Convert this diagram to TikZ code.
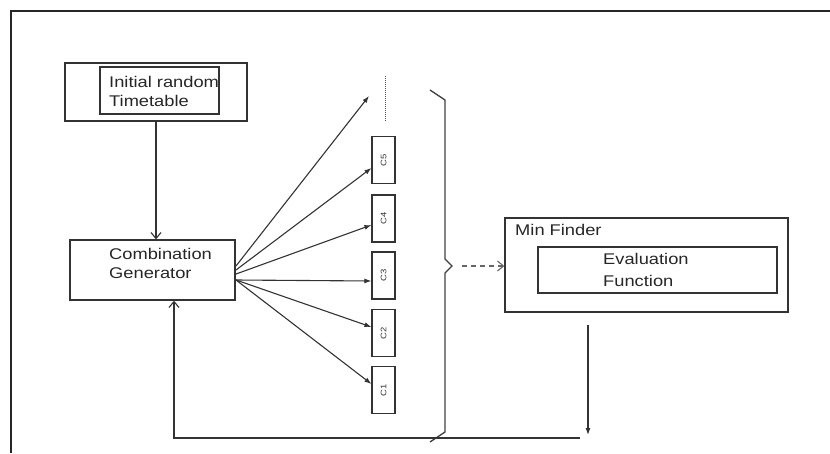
\documentclass[tikz,border=0pt]{standalone}
\usepackage{fontspec}
\setmainfont[FakeStretch=1.18]{Liberation Sans}
\usetikzlibrary{arrows.meta}
\begin{document}
\begin{tikzpicture}[x=1pt,y=-1pt,
  box/.style={draw=black!80,line width=1.3pt,minimum width=#1,inner sep=0pt},
  lbl/.style={anchor=west,inner sep=0pt,font=\fontsize{15.5}{18}\selectfont,text=black!85},
  cbox/.style={draw=black!80,line width=1.1pt,minimum width=23pt,minimum height=47pt,inner sep=0pt},
  clbl/.style={rotate=90,font=\fontsize{8}{9}\selectfont,inner sep=0pt,text=black!80},
  fan/.style={draw=black!80,line width=1.1pt,-{Latex[length=7pt,width=5pt]}},
  vhead/.style={draw=black!80,line width=1.1pt,-{Straight Barb[length=6pt,width=10pt]}}]
\useasboundingbox (0,0) rectangle (830,453);
% outer frame
\draw[line width=2pt,black!85] (11,453) -- (11,11) -- (830,11);
% initial random timetable
\node[box=182pt,minimum height=58pt] (init) at (156,92) {};
\node[box=119pt,minimum height=47pt] (initin) at (159.5,90.5) {};
\node[lbl] (t1) at (109,82) {Initial random};
\node[lbl] (t2) at (109,101) {Timetable};
% combination generator
\node[box=165pt,minimum height=60pt] (comb) at (152.5,270) {};
\node[lbl] (t3) at (109,254) {Combination};
\node[lbl] (t4) at (109,273) {Generator};
% arrow init -> comb
\draw[vhead] (init.south -| 156,0) -- (comb.north -| 156,0);
% C boxes
\node[cbox] (c5) at (383.5,160) {}; \node[clbl] (l5) at (c5) {C5};
\node[cbox] (c4) at (383.5,218.5) {}; \node[clbl] (l4) at (c4) {C4};
\node[cbox] (c3) at (383.5,275.5) {}; \node[clbl] (l3) at (c3) {C3};
\node[cbox] (c2) at (383.5,333) {}; \node[clbl] (l2) at (c2) {C2};
\node[cbox] (c1) at (383.5,390) {}; \node[clbl] (l1) at (c1) {C1};
\coordinate (dtop) at (385,76);
\coordinate (dbot) at (385,122);
\draw[black!70,line width=1pt,dash pattern=on 1pt off 1pt] (dtop) -- (dbot);
\coordinate (tgt) at (369,96);
% fan
\coordinate (o1) at (236,266);
\coordinate (o2) at (236,270);
\coordinate (o3) at (236,274);
\coordinate (o4) at (236,280);
\draw[fan] (o1) -- (tgt);
\draw[fan] (o2) -- (c5.west |- 0,168);
\draw[fan] (o3) -- (c4.west |- 0,225);
\draw[fan] (o4) -- (c3.west |- 0,281);
\draw[fan] (o4) -- (c2.west |- 0,327);
\draw[fan] (o4) -- (c1.west |- 0,384);
% brace
\draw[black!75,line width=1.3pt] (430,90) -- (445,100) -- (445,259) -- (452,266) -- (445,273) -- (445,432) -- (430,442);
\coordinate (bc) at (462,266);
% min finder
\node[box=283pt,minimum height=94pt] (minf) at (646.5,265) {};
\node[lbl] (t5) at (515,230) {Min Finder};
\node[box=239pt,minimum height=46pt] (evalb) at (657.5,270) {};
\node[lbl] (t6) at (603,259) {Evaluation};
\node[lbl] (t7) at (603,281) {Function};
\draw[vhead,black!60,dash pattern=on 5pt off 4pt] (bc) -- (minf.west |- bc);
% feedback
\coordinate (mtop) at (588,325);
\coordinate (mbot) at (588,435);
\draw[fan] (mtop) -- (mbot);
\coordinate (fr) at (580,438);
\coordinate (fl) at (174,438);
\draw[vhead] (fr) -- (fl) -- (comb.south -| fl);
\end{tikzpicture}
\end{document}
